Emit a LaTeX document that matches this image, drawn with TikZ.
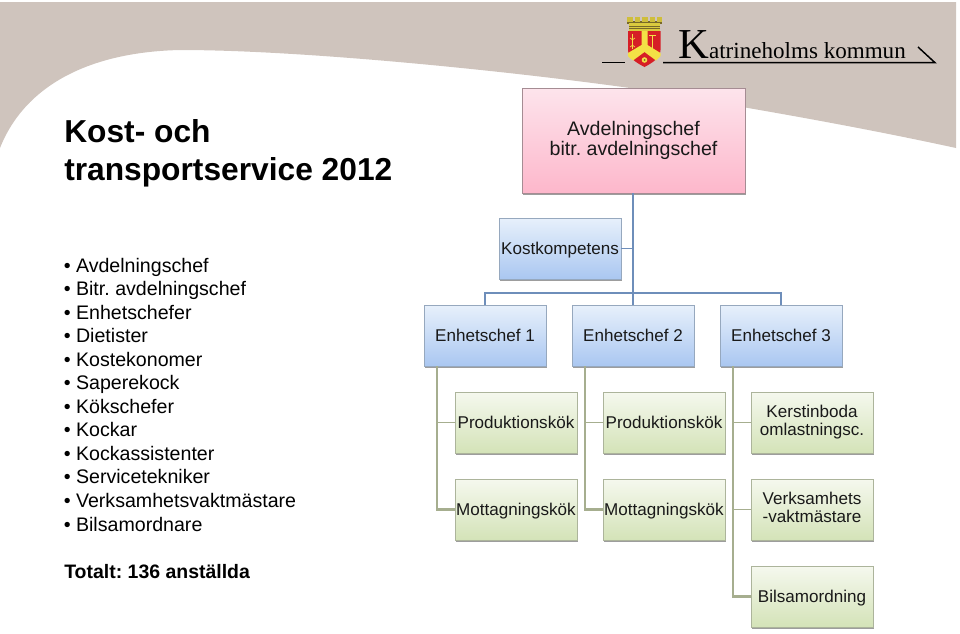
\documentclass[tikz,border=0pt]{standalone}
\usepackage{fontspec}
\setmainfont{Liberation Sans}
\newfontfamily\logofont{Liberation Serif}
\usepackage{tikz}
\usetikzlibrary{shadows, calc}
\definecolor{bandcolor}{RGB}{207,196,189}
\definecolor{headtop}{RGB}{253,228,236}
\definecolor{headbot}{RGB}{253,183,203}
\definecolor{headline}{RGB}{165,140,147}
\definecolor{unittop}{RGB}{231,240,251}
\definecolor{unitbot}{RGB}{170,199,241}
\definecolor{unitline}{RGB}{150,168,190}
\definecolor{kitchentop}{RGB}{245,248,238}
\definecolor{kitchenbot}{RGB}{212,227,184}
\definecolor{kitchenline}{RGB}{172,180,155}
\definecolor{bluewire}{RGB}{110,142,186}
\definecolor{greenwire}{RGB}{166,174,143}
\definecolor{shieldred}{RGB}{214,30,38}
\definecolor{shieldyellow}{RGB}{243,224,70}
\definecolor{crowndark}{RGB}{120,105,40}
\begin{document}
\frenchspacing
\begin{tikzpicture}[
    x=0.75pt, y=-0.75pt,
    box/.style={minimum width=91.5pt, minimum height=45.5pt, inner sep=0pt, align=center, text=black!90,
        font=\fontsize{12.8}{13.7}\selectfont,
        execute at begin node={\rule{0pt}{12pt}}, execute at end node={\rule[-2.8pt]{0pt}{2.8pt}},
        drop shadow={shadow xshift=0.5pt, shadow yshift=-1.3pt, opacity=0.55, fill=black!70}},
    head/.style={box, draw=headline, top color=headtop, bottom color=headbot, minimum width=167pt, minimum height=78.5pt, font=\fontsize{14.7}{15.4}\selectfont},
    unit/.style={box, draw=unitline, top color=unittop, bottom color=unitbot},
    kitchen/.style={box, draw=kitchenline, top color=kitchentop, bottom color=kitchenbot},
    bluelink/.style={draw=bluewire, line width=1.8pt},
    greenlink/.style={draw=greenwire, line width=1.8pt},
    listitem/.style={anchor=base west, inner sep=0pt, font=\fontsize{14.7}{16}\selectfont}
]
    \useasboundingbox (0,0) rectangle (960,633);
    % Background band
    \fill[bandcolor] (0,2) -- (956,2) -- (956,148)
        .. controls (850,125) and (750,108) .. (630,88)
        .. controls (500,70) and (300,50) .. (180,50)
        .. controls (90,52) and (25,85) .. (0,148) -- cycle;

    % Logo
    \fill[crowndark] (627,21) rectangle (662,24);
    \foreach \mx in {627,634.5,642,649.5,656.5}
        \fill[shieldyellow!85!black] (\mx,17) rectangle ++(5.5,5);
    \fill[shieldyellow!90!black] (629,23) rectangle (660,31);
    \draw[crowndark, line width=0.3pt] (629,26) -- (660,26) (629,28.5) -- (660,28.5);
    \fill[shieldred] (628,31) -- (660.5,31) -- (660.5,50) .. controls (660.5,58) and (652,63) .. (644.5,67)
        .. controls (637,63) and (628,58) .. (628,50) -- cycle;
    \fill[shieldyellow] (641.5,31) -- (647.5,31) -- (647.5,45) -- (660.5,53) -- (660.5,56) .. controls (659,58) and (658,59) .. (656,60.5)
        -- (644.5,52) -- (633,60.5) .. controls (631,59) and (629.5,58) .. (628,56) -- (628,53) -- (641.5,45) -- cycle;
    \fill[shieldyellow] (644.5,60) circle (2.8);
    \fill[crowndark] (644.5,60) circle (1);
    \draw[shieldyellow, line width=0.7pt] (632.5,34) -- (632.5,49);
    \draw[shieldyellow, line width=0.5pt] (630,38) .. controls (636,41) and (629,44) .. (635,47)
        (635,38) .. controls (629,41) and (636,44) .. (630,47);
    \draw[shieldyellow, line width=0.7pt] (652,35) -- (652,49) (649,35.5) -- (656,35.5);
    \draw[black, line width=1.1pt] (602,62.7) -- (625,62.7);
    \draw[black, line width=1.1pt] (663,62.7) -- (935,62.7) -- (918,47);
    \node[anchor=base west, inner sep=0pt] (logotext) at (678,58.5) {\logofont\fontsize{32}{32}\selectfont K\fontsize{17.3}{18}\selectfont atrineholms kommun};

    % Title
    \node[anchor=base west, inner sep=0pt, font=\fontsize{23.8}{28.5}\selectfont\bfseries, align=left] (title) at (64,180) {Kost- och\\transportservice 2012};

    % Staff list
    \foreach \name [count=\i from 0] in {Avdelningschef, Bitr. avdelningschef, Enhetschefer, Dietister, Kostekonomer, Saperekock, K\"okschefer, Kockar, Kockassistenter, Servicetekniker, Verksamhetsvaktm\"astare, Bilsamordnare}
        \node[listitem] (staff\i) at (63.5,{272+23.55*\i}) {\textbullet{} \name};
    \node[listitem, font=\fontsize{14.6}{16}\selectfont\bfseries] (total) at (64,578) {Totalt: 136 anst\"allda};

    % Top level
    \node[head] (chef) at (633.5,140.5) {Avdelningschef\\bitr. avdelningschef};
    \node[unit] (kost) at (560,248.5) {Kostkompetens};

    % Second level
    \node[unit] (enh1) at (485,335.5) {Enhetschef 1};
    \node[unit] (enh2) at (633,335.5) {Enhetschef 2};
    \node[unit] (enh3) at (781,335.5) {Enhetschef 3};

    % Third level
    \node[kitchen] (prod1) at (516,422.5) {Produktionsk\"ok};
    \node[kitchen] (mott1) at (516,509.5) {Mottagningsk\"ok};
    \node[kitchen] (prod2) at (664,422.5) {Produktionsk\"ok};
    \node[kitchen] (mott2) at (664,509.5) {Mottagningsk\"ok};
    \node[kitchen] (kerst) at (812,422.5) {Kerstinboda\\omlastningsc.};
    \node[kitchen] (verk) at (812,509.5) {Verksamhets\\-vaktm\"astare};
    \node[kitchen] (bil) at (812,596.5) {Bilsamordning};

    % Connections
    \draw[bluelink] (chef.south -| enh2) -- (enh2.north);
    \draw[bluelink, line width=1.4pt] (kost.east) -- (kost.east -| enh2);
    \draw[bluelink] (enh1.north) -- ++(0,-12) -| (enh3.north);
    \foreach \top/\low/\wd in {enh1/prod1/1.4pt, enh1/mott1/1.8pt, enh2/prod2/1.4pt, enh2/mott2/1.8pt, enh3/kerst/1.4pt, enh3/verk/1.4pt, enh3/bil/1.8pt}
        \draw[greenlink, line width=\wd] ($(\top.south west)+(13,0)$) |- (\low.west);
\end{tikzpicture}
\end{document}
